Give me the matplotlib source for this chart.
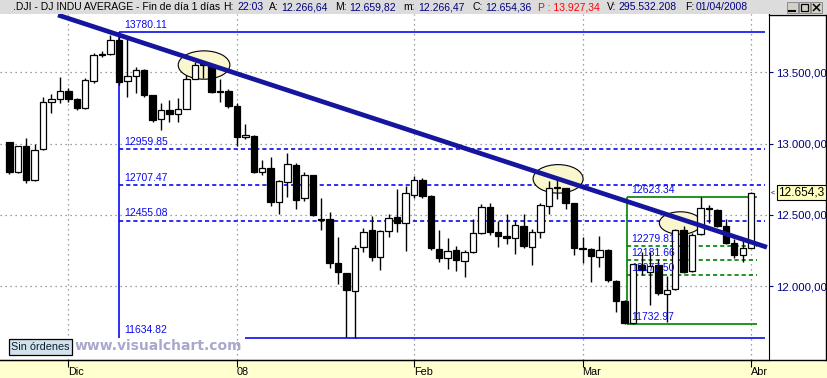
import matplotlib
matplotlib.use('Agg')
import matplotlib.pyplot as plt
from matplotlib.patches import Ellipse, Rectangle
from matplotlib.lines import Line2D
from matplotlib.ticker import FuncFormatter, FixedLocator
import numpy as np

plt.rcParams['font.family'] = ['Liberation Sans', 'DejaVu Sans']

# ---------------- data ----------------
opens = [13009, 12800, 12983, 12742, 12960, 13291, 13315, 13369, 13313, 13247,
         13439, 13620, 13626, 13725, 13437, 13474, 13516, 13339, 13172, 13233,
         13207, 13241, 13452, 13550, 13551, 13360, 13369, 13263, 13046, 13056,
         12798, 12827, 12590, 12732, 12849, 12616, 12779, 12470, 12468, 12159,
         12089, 11967, 12272, 12393, 12201, 12386, 12482, 12440, 12638, 12744,
         12632, 12260, 12194, 12253, 12178, 12242, 12370, 12552, 12377, 12351,
         12335, 12423, 12276, 12377, 12564, 12685, 12686, 12580, 12260, 12260,
         12201, 12253, 12038, 11893, 11741, 12147, 12100, 12147, 11944, 11977,
         12393, 12105, 12365, 12545, 12531, 12418, 12300, 12218, 12266.64]
highs = [13012, 12985, 13041, 12997, 13324, 13348, 13465, 13392, 13318, 13458,
         13638, 13652, 13762, 13780.11, 13739, 13539, 13520, 13342, 13282, 13306,
         13317, 13479, 13574, 13574, 13560, 13451, 13380, 13282, 13135, 13060,
         12884, 12908, 12745, 12936, 12860, 12800, 12782, 12616, 12522, 12342,
         12090, 12290, 12405, 12494, 12390, 12503, 12679, 12702, 12772, 12755,
         12640, 12393, 12335, 12281, 12253, 12468, 12575, 12580, 12456, 12505,
         12463, 12505, 12398, 12580, 12739, 12749, 12690, 12585, 12346, 12265,
         12351, 12258, 12045, 11900, 12157, 12241, 12241, 12190, 12070, 12400,
         12420, 12370, 12627, 12568, 12540, 12468, 12328, 12323, 12659.82]
lows = [12786, 12796, 12721, 12740, 12958, 13212, 13282, 13294, 13235, 13245,
        13427, 13605, 13620, 13410, 13324, 13353, 13330, 13153, 13095, 13151,
        13153, 13240, 13450, 13460, 13355, 13294, 13247, 12985, 13030, 12790,
        12779, 12560, 12503, 12627, 12540, 12600, 12491, 12393, 12124, 12014,
        11640, 11634.82, 12241, 12178, 12112, 12346, 12381, 12248, 12620, 12620,
        12255, 12171, 12117, 12107, 12065, 12235, 12365, 12360, 12276, 12295,
        12225, 12270, 12147, 12339, 12505, 12611, 12538, 12218, 12159, 12030,
        12135, 12030, 11820, 11733, 11733, 12080, 11867, 11940, 11749, 11970,
        12093, 12095, 12360, 12444, 12416, 12295, 12196, 12171, 12266.47]
closes = [12799, 12981, 12743, 12958, 13289, 13312, 13372, 13315, 13249, 13445,
          13620, 13626, 13727, 13433, 13474, 13518, 13340, 13167, 13232, 13207,
          13245, 13451, 13549, 13552, 13360, 13366, 13265, 13044, 13057, 12800,
          12827, 12589, 12735, 12853, 12606, 12778, 12501, 12466, 12159, 12099,
          11971, 12270, 12378, 12207, 12384, 12480, 12443, 12650, 12743, 12635,
          12265, 12200, 12247, 12182, 12240, 12373, 12552, 12377, 12348, 12337,
          12427, 12284, 12381, 12570, 12685, 12694, 12582, 12266, 12259, 12214,
          12255, 12040, 11894, 11740, 12157, 12110, 12140, 11951, 11972, 12393,
          12100, 12361, 12545, 12540, 12423, 12300, 12218, 12265, 12654.36]

month_ticks = [7, 27, 48, 68, 88]
month_labels = ['Dic', '08', 'Feb', 'Mar', 'Abr']
price_ticks = [12000, 12500, 13000, 13500]

blue_fib_levels = [13780.11, 12959.85, 12707.47, 12455.08, 11634.82]
blue_fib_labels = ['13780.11', '12959.85', '12707.47', '12455.08', '11634.82']
green_fib_levels = [12623.34, 12279.81, 12181.66, 12077.50, 11732.97]
green_fib_labels = ['12623.34', '12279.81', '12181.66', '12077.50', '11732.97']

trend_x = [5.78, 89.88]
trend_y = [13902, 12272]

# ellipses: (center index, center price, width in bars, height in points)
ellipses = [(23.1, 13551, 6.13, 199), (65.1, 12752, 5.93, 200), (79.6, 12442, 4.98, 158)]

last_close = 12654.36

# ---------------- figure ----------------
W, H = 828, 378
fig = plt.figure(figsize=(W / 100, H / 100), dpi=100)
fig.patch.set_facecolor('white')


def fx(p):
    return p / W


def fy(p):
    return 1 - p / H


# header bar
fig.patches.append(Rectangle((0, fy(14)), 1, 14 / H, transform=fig.transFigure,
                             facecolor='#DCDCDC', edgecolor='none', zorder=-1))
# bottom yellow band
fig.patches.append(Rectangle((0, 0), 1, fy(360), transform=fig.transFigure,
                             facecolor='#FFFFD0', edgecolor='none', zorder=-1))

ax = fig.add_axes([0, fy(360), fx(769), (360 - 14) / H])
ax.set_facecolor('white')
ax.set_xlim((0 - 9.3) / 8.43, (769 - 9.3) / 8.43)
ax.set_ylim(11480.6, 13909.2)

for s in ['left', 'top']:
    ax.spines[s].set_visible(False)
ax.spines['bottom'].set_color('black')
ax.spines['right'].set_color('black')

ax.yaxis.tick_right()
ax.yaxis.set_major_locator(FixedLocator(price_ticks))
ax.yaxis.set_major_formatter(FuncFormatter(
    lambda v, p: ('{:,.2f}'.format(v)).replace(',', 'X').replace('.', ',').replace('X', '.')))
ax.tick_params(axis='y', direction='out', length=3, pad=2, labelsize=8.2,
               labelcolor='#000080', color='#000080')
ax.set_xticks(month_ticks)
ax.set_xticklabels(month_labels)
ax.tick_params(axis='x', direction='out', length=4.8, pad=0, labelsize=7.8, color='black')
for lbl in ax.get_xticklabels():
    lbl.set_horizontalalignment('left')

ax.set_axisbelow(True)
ax.grid(True, color='#808080', linestyle=(0, (1, 3)), linewidth=0.9)

idx = np.arange(len(opens))
o = np.array(opens, dtype=float)
c = np.array(closes, dtype=float)
hi = np.array(highs, dtype=float)
lo = np.array(lows, dtype=float)

# ellipses
for (ex, ey, ew, eh) in ellipses:
    ax.add_patch(Ellipse((ex, ey), ew, eh, facecolor='#FAF7D0', edgecolor='black',
                         linewidth=0.8, zorder=2.5))

# blue fibonacci set
x_start_b = (119 - 9.3) / 8.43
x_end_b = (765 - 9.3) / 8.43
x_low_b = (245 - 9.3) / 8.43
blue = '#0A0AF0'
for k, (lev, lab) in enumerate(zip(blue_fib_levels, blue_fib_labels)):
    if k == 0:
        ax.hlines(lev, x_start_b, x_end_b, colors=blue, linewidth=1.2, zorder=2)
    elif k == len(blue_fib_levels) - 1:
        ax.hlines(lev, x_low_b, x_end_b, colors=blue, linewidth=1.2, zorder=2)
    else:
        ax.hlines(lev, x_start_b, x_end_b, colors=blue, linewidth=1.2,
                  linestyles=(0, (2.5, 1.8)), zorder=2)
    ax.text(x_start_b + 0.6, lev + 33, lab, color=blue, fontsize=7.5,
            ha='left', va='baseline', zorder=6)
ax.vlines(x_start_b, blue_fib_levels[-1], blue_fib_levels[0], colors=blue,
          linewidth=1.2, zorder=2)

# green fibonacci set
x_start_g = (626.7 - 9.3) / 8.43
x_end_g = (756.7 - 9.3) / 8.43
green = '#008000'
for k, (lev, lab) in enumerate(zip(green_fib_levels, green_fib_labels)):
    if k == 0 or k == len(green_fib_levels) - 1:
        ax.hlines(lev, x_start_g, x_end_g, colors=green, linewidth=1.2, zorder=2)
    else:
        ax.hlines(lev, x_start_g, x_end_g, colors=green, linewidth=1.2,
                  linestyles=(0, (2.5, 1.8)), zorder=2)
    ax.text(x_start_g + 0.55, lev + 29, lab, color=blue, fontsize=7.5,
            ha='left', va='baseline', zorder=6)
ax.vlines(x_start_g, green_fib_levels[-1], green_fib_levels[0], colors=green,
          linewidth=1.2, zorder=2)

# candles
ax.vlines(idx, lo, hi, colors='black', linewidth=1.0, zorder=3)
face = ['white' if cc >= oo else 'black' for oo, cc in zip(o, c)]
ax.bar(idx, np.maximum(np.abs(c - o), 6), width=0.76, bottom=np.minimum(o, c),
       color=face, edgecolor='black', linewidth=0.9, zorder=4)

# trendline
ax.plot(trend_x, trend_y, color='#15159E', linewidth=3.4, solid_capstyle='butt', zorder=5)

# right panel frame
fig.add_artist(Line2D([fx(769), 1], [fy(14.5), fy(14.5)], transform=fig.transFigure,
                      color='black', linewidth=1))
fig.add_artist(Line2D([fx(826.5), fx(826.5)], [fy(14.5), fy(360)], transform=fig.transFigure,
                      color='black', linewidth=1))
fig.add_artist(Line2D([0, 1], [fy(360), fy(360)], transform=fig.transFigure,
                      color='black', linewidth=1))

# current price label
y_last = 286 - (last_close - 12000) * 0.14247
fig.text(fx(778), fy(y_last), '12.654,3', ha='left', va='center', fontsize=8.6,
         color='black', bbox=dict(boxstyle='square,pad=0.12', facecolor='#FFFFC0',
                                  edgecolor='black', linewidth=0.8))
fig.text(fx(771), fy(y_last), '<', ha='left', va='center', fontsize=5, color='black')

# header text
header = [
    (13, '.DJI - DJ INDU AVERAGE - Fin de día 1 días', 'black'),
    (223, 'H:', 'black'), (237, '22:03', '#000080'),
    (269, 'A:', 'black'), (281, '12.266,64', '#000080'),
    (335, 'M:', 'black'), (349, '12.659,82', '#000080'),
    (403, 'm:', 'black'), (418, '12.266,47', '#000080'),
    (473, 'C:', 'black'), (485, '12.654,36', '#000080'),
    (538, 'P : 13.927,34', '#FF0000'),
    (607, 'V:', 'black'), (618, '295.532.208', '#000080'),
    (685, 'F:', 'black'), (696, '01/04/2008', '#000080'),
]
for (px, t, col) in header:
    fig.text(fx(px), fy(7.5), t, ha='left', va='center', fontsize=7.5, color=col)

# window buttons
for bx in [787, 799, 811]:
    fig.patches.append(Rectangle((fx(bx), fy(12.5)), 11 / W, 10 / H, transform=fig.transFigure,
                                 facecolor='#D4D0C8', edgecolor='#808080', linewidth=0.6))
fig.add_artist(Line2D([fx(789.5), fx(795.5)], [fy(10.5), fy(10.5)], transform=fig.transFigure,
                      color='black', linewidth=1.5))
fig.patches.append(Rectangle((fx(801), fy(11)), 7 / W, 7 / H, transform=fig.transFigure,
                             facecolor='none', edgecolor='black', linewidth=0.9))
fig.add_artist(Line2D([fx(813.5), fx(819.5)], [fy(4.5), fy(10.5)], transform=fig.transFigure,
                      color='black', linewidth=1.1))
fig.add_artist(Line2D([fx(813.5), fx(819.5)], [fy(10.5), fy(4.5)], transform=fig.transFigure,
                      color='black', linewidth=1.1))

# "Sin órdenes" button and watermark
fig.patches.append(Rectangle((fx(9), fy(354.5)), 63 / W, 15.5 / H, transform=fig.transFigure,
                             facecolor='#D3E2EA', edgecolor='black', linewidth=0.9, zorder=5))
fig.text(fx(40.5), fy(347), 'Sin órdenes', ha='center', va='center', fontsize=7.8,
         color='#0A2030', zorder=6)
fig.text(fx(75), fy(346), 'www.visualchart.com', ha='left', va='center', fontsize=10,
         fontweight='bold', family=['DejaVu Sans'], color='#A8A8CC', zorder=6)

fig.savefig('out.png', dpi=100, facecolor='white')
